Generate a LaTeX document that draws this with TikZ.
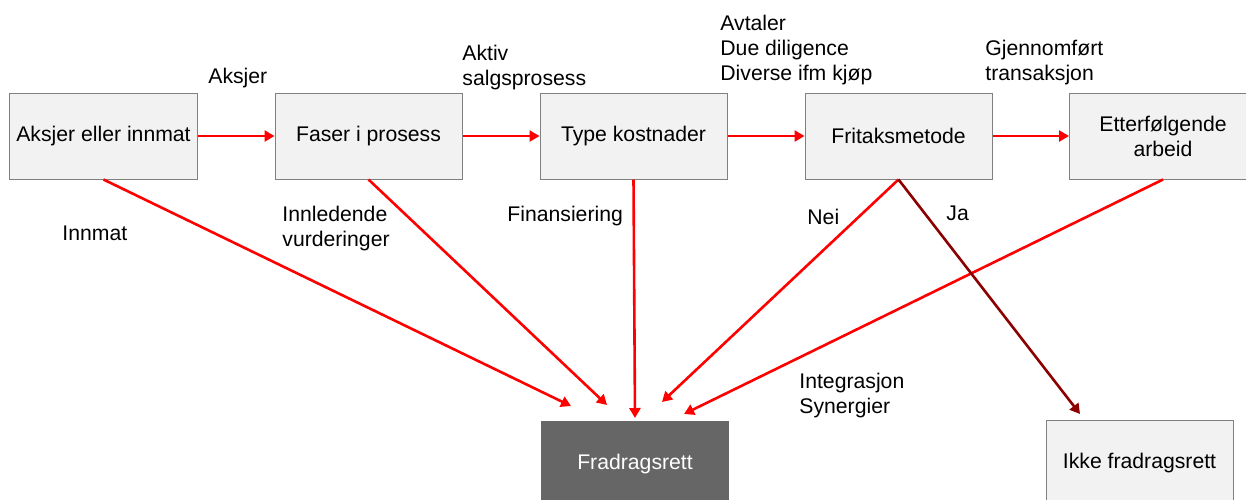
\documentclass[tikz,border=0pt]{standalone}
\usepackage{fontspec}
\setmainfont{Liberation Sans}
\usetikzlibrary{arrows.meta}
\definecolor{boxgray}{HTML}{F2F2F2}
\definecolor{linegray}{HTML}{808080}
\definecolor{darkbox}{HTML}{666666}
\definecolor{darkred}{HTML}{8C0000}
\tikzset{
  stepbox/.style={draw=linegray, fill=boxgray, line width=0.5pt,
    minimum width=93.5pt, minimum height=43pt, align=center},
  flow/.style={draw=red, line width=1.3pt, -{Triangle[length=5pt,width=5.5pt]}},
  lbl/.style={anchor=west, inner sep=0pt, align=left},
}
\begin{document}
\begin{tikzpicture}[x=0.5pt,y=-0.5pt,font=\fontsize{10.6}{12.5}\selectfont]

        \clip (0,0) rectangle (1246,499);

        \begin{scope}[every node/.style={stepbox}]
          \node (aksjer)  at (103.5,136) {Aksjer eller innmat};
          \node (faser)   at (368.5,136) {Faser i prosess};
          \node (type)    at (633.5,136) {Type kostnader};
          \node (fritak)  at (898.5,136) {Fritaksmetode};
          \node (etter)   at (1163,136)  {Etterfølgende\\arbeid};
          \node[fill=darkbox, draw=darkbox, text=white] (fradrag) at (635,464) {Fradragsrett};
          \node (ikke)    at (1139.5,463) {Ikke fradragsrett};
        \end{scope}

        % arrow ends above the bottom boxes
        \coordinate (e1) at (571,406);
        \coordinate (e2) at (607,405);
        \coordinate (e3) at (635,418);
        \coordinate (e4) at (662,402);
        \coordinate (e5) at (684,414);
        \coordinate (e6) at (1080,414);

        \begin{scope}[every path/.style={flow}]
          \path (aksjer) -- (faser);
          \path (faser)  -- (type);
          \path (type)   -- (fritak);
          \path (fritak) -- (etter);
          \path (aksjer.south) -- (e1);
          \path (faser.south)  -- (e2);
          \path (type.south)   -- (e3);
          \path (fritak.south) -- (e4);
          \path (etter.south)  -- (e5);
          \path[draw=darkred] (fritak.south) -- (e6);
        \end{scope}

        \begin{scope}[every node/.style={lbl}]
          \node (l1)  at (208,78)   {Aksjer};
          \node (l2)  at (462,67.5) {Aktiv\\salgsprosess};
          \node (l3)  at (720,50)   {Avtaler\\Due diligence\\Diverse ifm kjøp};
          \node (l4)  at (985,62.5) {Gjennomført\\transaksjon};
          \node (l5)  at (62,233)   {Innmat};
          \node (l6)  at (282,228.5) {Innledende\\vurderinger};
          \node (l7)  at (507,216)  {Finansiering};
          \node (l8)  at (807,217)  {Nei};
          \node (l9)  at (946,213)  {Ja};
          \node (l10) at (799,396)  {Integrasjon\\Synergier};
        \end{scope}

      \end{tikzpicture}
\end{document}
